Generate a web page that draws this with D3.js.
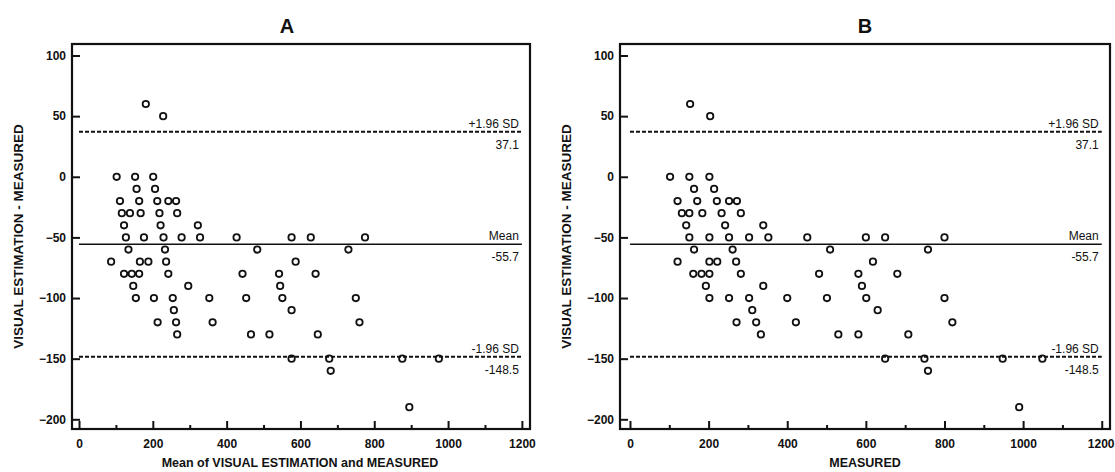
<!DOCTYPE html>
<html>
<head>
<meta charset="utf-8">
<script src="https://cdn.jsdelivr.net/npm/d3@7"></script>
<style>
  body { margin: 0; background: #fff; }
  svg { display: block; font-family: "Liberation Sans", Arial, sans-serif; }
</style>
</head>
<body>
<svg id="canvas" width="1115" height="472"></svg>
<script>
// differences (visual estimation - measured), same for both panels
const diffs = [
  60, 50,
  0, 0, 0,
  -10, -10,
  -20, -20, -20, -20, -20,
  -30, -30, -30, -30, -30,
  -40, -40, -40,
  -50, -50, -50, -50, -50, -50, -50, -50, -50,
  -60, -60, -60, -60,
  -70, -70, -70, -70, -70,
  -80, -80, -80, -80, -80, -80, -80,
  -90, -90, -90,
  -100, -100, -100, -100, -100, -100, -100,
  -110, -110,
  -120, -120, -120, -120,
  -130, -130, -130, -130,
  -150, -150, -150, -150,
  -160,
  -190
];

// panel A: mean of visual estimation and measured
const meanA = [
  181, 228,
  102, 152, 201,
  156, 206,
  111, 163, 212, 242, 263,
  116, 138, 167, 218, 266,
  122, 221, 322,
  127, 176, 229, 278, 328, 427, 576, 628, 775,
  134, 233, 483, 730,
  87, 165, 188, 236, 587,
  122, 143, 163, 242, 443, 542, 641,
  147, 296, 545,
  154, 203, 254, 353, 453, 551, 750,
  257, 576,
  213, 263, 362, 760,
  266, 466, 516, 647,
  576, 678, 876, 975,
  682,
  895
];

// panel B: measured
const measuredB = [
  153, 204,
  102, 151, 202,
  163, 214,
  121, 171, 221, 252, 272,
  132, 151, 184, 233, 282,
  143, 242, 339,
  151, 202, 252, 303, 352, 451, 600, 649, 800,
  163, 261, 509, 758,
  121, 202, 222, 270, 618,
  161, 182, 202, 282, 481, 581, 680,
  193, 339, 590,
  202, 252, 303, 400, 501, 601, 800,
  311, 630,
  271, 321, 422, 820,
  333, 530, 581, 708,
  649, 749, 948, 1049,
  758,
  990
];

const refValues = [37.1, -55.7, -148.5];
const refNames = ["+1.96 SD", "Mean", "-1.96 SD"];
const refLabels = ["37.1", "-55.7", "-148.5"];

const yTicks = [100, 50, 0, -50, -100, -150, -200];
const xTicks = [0, 200, 400, 600, 800, 1000, 1200];
const xMinorTicks = [100, 300, 500, 700, 900, 1100];

const svg = d3.select("#canvas");
const plotTop = 44, plotBottom = 429;

const y = d3.scaleLinear().domain([-208, 109.5]).range([plotBottom, plotTop]);

function drawPanel(cfg) {
  const g = svg.append("g");

  const x = d3.scaleLinear().domain(cfg.domain).range([cfg.left, cfg.right]);

  // title
  g.append("text")
    .attr("x", cfg.titleX)
    .attr("y", 33)
    .attr("text-anchor", "middle")
    .attr("font-size", "20px")
    .attr("font-weight", "bold")
    .attr("fill", "#111")
    .text(cfg.title);

  // reference lines
  refValues.forEach((v, i) => {
    g.append("line")
      .attr("x1", x(0))
      .attr("x2", x(1200))
      .attr("y1", y(v))
      .attr("y2", y(v))
      .attr("stroke", "#111")
      .attr("stroke-width", i === 1 ? 1.6 : 2)
      .attr("stroke-dasharray", i === 1 ? null : "4,2");

    g.append("text")
      .attr("x", x(1200) - 3)
      .attr("y", y(v) - 4)
      .attr("text-anchor", "end")
      .attr("font-size", "12px")
      .attr("fill", "#111")
      .text(refNames[i]);

    g.append("text")
      .attr("x", x(1200) - 3)
      .attr("y", y(v) + 17)
      .attr("text-anchor", "end")
      .attr("font-size", "12px")
      .attr("fill", "#111")
      .text(refLabels[i]);
  });

  // points
  g.selectAll("circle")
    .data(cfg.xs.map((v, i) => ({ x: v, y: diffs[i] })))
    .enter()
    .append("circle")
    .attr("cx", d => x(d.x))
    .attr("cy", d => y(d.y))
    .attr("r", 3.2)
    .attr("fill", "none")
    .attr("stroke", "#111")
    .attr("stroke-width", 1.8);

  // axes
  const yAxis = g.append("g")
    .attr("transform", `translate(${cfg.left},0)`)
    .call(d3.axisLeft(y).tickValues(yTicks).tickSize(-8).tickPadding(6));

  const xAxis = g.append("g")
    .attr("transform", `translate(0,${plotBottom})`)
    .call(d3.axisBottom(x).tickValues(xTicks).tickFormat(d3.format("d")).tickSize(-8).tickPadding(10));

  g.append("g")
    .attr("transform", `translate(0,${plotBottom})`)
    .call(d3.axisBottom(x).tickValues(xMinorTicks).tickSize(-4).tickFormat(""))
    .select(".domain").remove();

  [yAxis, xAxis].forEach(a => {
    a.select(".domain").remove();
    a.selectAll("text")
      .attr("font-family", "Liberation Sans, Arial, sans-serif")
      .attr("font-size", "12px")
      .attr("font-weight", "bold")
      .attr("fill", "#111");
  });
  g.selectAll("g.tick line").attr("stroke", "#111").attr("stroke-width", 2);

  // keep the last label inside the page
  xAxis.selectAll("text")
    .filter(d => d === 1200 && x(1200) + 14 > 1115)
    .attr("text-anchor", "end")
    .attr("x", 1115 - x(1200) - 1);

  // frame
  g.append("rect")
    .attr("x", cfg.left)
    .attr("y", plotTop)
    .attr("width", cfg.right - cfg.left)
    .attr("height", plotBottom - plotTop)
    .attr("fill", "none")
    .attr("stroke", "#111")
    .attr("stroke-width", 2.2);

  // axis titles
  g.append("text")
    .attr("transform", `translate(${cfg.left - 54},${(plotTop + plotBottom) / 2}) rotate(-90)`)
    .attr("text-anchor", "middle")
    .attr("dy", "0.35em")
    .attr("font-size", "13.5px")
    .attr("font-weight", "bold")
    .attr("fill", "#111")
    .text("VISUAL ESTIMATION - MEASURED");

  g.append("text")
    .attr("x", cfg.xLabelX)
    .attr("y", 467)
    .attr("text-anchor", "middle")
    .attr("font-size", "12.5px")
    .attr("font-weight", "bold")
    .attr("fill", "#111")
    .text(cfg.xLabel);
}

drawPanel({
  title: "A",
  titleX: 287,
  left: 72,
  right: 530,
  domain: [-19, 1222],
  xs: meanA,
  xLabel: "Mean of VISUAL ESTIMATION and MEASURED",
  xLabelX: 300
});

drawPanel({
  title: "B",
  titleX: 865,
  left: 620,
  right: 1110,
  domain: [-25.4, 1221],
  xs: measuredB,
  xLabel: "MEASURED",
  xLabelX: 865
});
</script>
</body>
</html>
